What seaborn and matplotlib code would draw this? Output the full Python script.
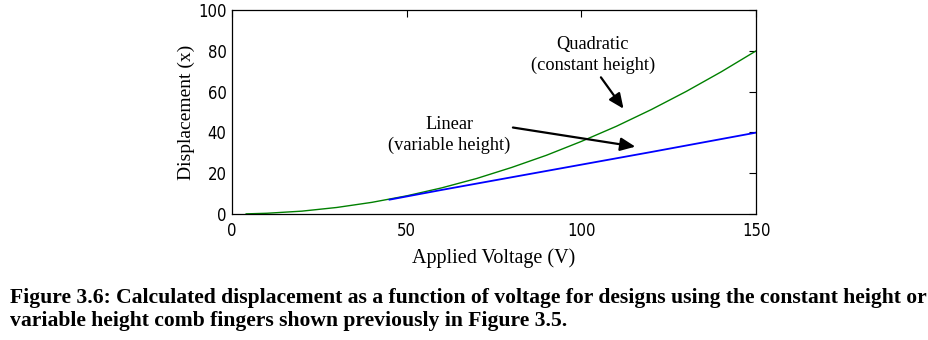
import matplotlib
matplotlib.use("Agg")
import matplotlib.pyplot as plt
from matplotlib import font_manager
import seaborn as sns
import pandas as pd

# Applied voltage (V) and calculated displacement for the two comb-finger designs
quad_voltage = [4, 10, 20, 30, 40, 50, 60, 70, 80, 90, 100, 110, 120, 130, 140, 150]
quad_displacement = [0.06, 0.36, 1.4, 3.2, 5.7, 8.9, 12.8, 17.4, 22.8, 28.8, 35.6, 43.0, 51.2, 60.1, 69.7, 80.0]

lin_voltage = [45, 60, 80, 100, 120, 150]
lin_displacement = [7.0, 11.8, 18.0, 24.2, 30.4, 39.9]

x_ticks = [0, 50, 100, 150]
y_ticks = [0, 20, 40, 60, 80, 100]

caption_lines = [
    "Figure 3.6: Calculated displacement as a function of voltage for designs using the constant height or",
    "variable height comb fingers shown previously in Figure 3.5.",
]

sns.set_style("white")
plt.rcParams["font.family"] = ["Liberation Serif", "DejaVu Serif"]
plt.rcParams["text.color"] = "black"
plt.rcParams["axes.labelcolor"] = "black"
plt.rcParams["xtick.color"] = "black"
plt.rcParams["ytick.color"] = "black"

# narrow sans for the tick numbers, if a condensed face is available
available = {(f.name, f.stretch) for f in font_manager.fontManager.ttflist}
names = {n for n, _ in available}
if "Liberation Sans Narrow" in names:
    tick_font = dict(family="Liberation Sans Narrow", size=13)
elif any(n == "DejaVu Sans" and s in ("condensed", 300, "semi-condensed") for n, s in available):
    tick_font = dict(family="DejaVu Sans", stretch="condensed", size=12)
else:
    tick_font = dict(family="Liberation Sans", size=11.5)

fig = plt.figure(figsize=(9.29, 3.40), dpi=100)
ax = fig.add_axes([0.2497, 0.3706, 0.5643, 0.6000])

quad = pd.DataFrame({"V": quad_voltage, "x": quad_displacement})
lin = pd.DataFrame({"V": lin_voltage, "x": lin_displacement})
sns.lineplot(data=quad, x="V", y="x", ax=ax, color="#008000", linewidth=1.0)
sns.lineplot(data=lin, x="V", y="x", ax=ax, color="#0000ff", linewidth=1.3)

ax.set_xlim(0, 150)
ax.set_ylim(0, 100)
ax.set_xticks(x_ticks)
ax.set_yticks(y_ticks)
ax.set_xticklabels([str(t) for t in x_ticks], fontdict=tick_font)
ax.set_yticklabels([str(t) for t in y_ticks], fontdict=tick_font)
ax.tick_params(axis="both", direction="in", length=5, width=0.8, top=True, right=True,
               labeltop=False, labelright=False, colors="black")
ax.tick_params(axis="x", pad=6)
ax.tick_params(axis="y", pad=4)
for s in ax.spines.values():
    s.set_color("black")
    s.set_linewidth(0.9)

ax.set_xlabel("Applied Voltage (V)", fontsize=14.5, labelpad=6, color="black")
ax.set_ylabel("Displacement (x)", fontsize=14, labelpad=2, color="black")

ax.text(103.3, 78.0, "Quadratic\n(constant height)", ha="center", va="center",
        fontsize=13.2, linespacing=1.3, color="black")
ax.text(62.1, 38.7, "Linear\n(variable height)", ha="center", va="center",
        fontsize=13.2, linespacing=1.3, color="black")
arrow_style = dict(arrowstyle="-|>,head_length=0.9,head_width=0.4", color="black", lw=1.6)
ax.annotate("", xy=(112.5, 50.5), xytext=(105.1, 68.1), arrowprops=arrow_style)
ax.annotate("", xy=(116.2, 32.8), xytext=(79.6, 42.6), arrowprops=arrow_style)

for line, base_px in zip(caption_lines, [303, 326]):
    fig.text(10 / 929, 1 - base_px / 340, line, ha="left", va="baseline",
             fontsize=15.6, fontweight="bold", color="black")

fig.savefig("out.png", dpi=100)
